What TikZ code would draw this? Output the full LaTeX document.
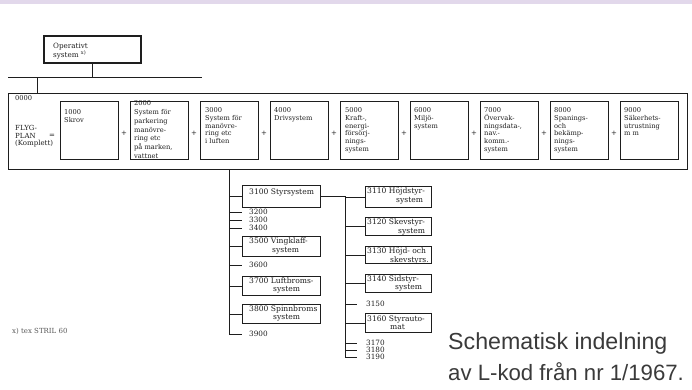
\documentclass[tikz,border=0pt]{standalone}
\usepackage{fontspec}
\setmainfont{DejaVu Serif}
\newfontfamily\capfont{Liberation Sans}
\definecolor{ink}{HTML}{1E1E1E}
\definecolor{strip}{RGB}{226,216,235}
\definecolor{capgray}{HTML}{3A3A3A}
\tikzset{
 frame/.style={draw=ink, line width=1.1pt, inner sep=0pt, anchor=north west},
 sysbox/.style={draw=ink, line width=1.4pt, inner sep=0pt, minimum width=58pt, minimum height=58pt, anchor=north west},
 subbox/.style={draw=ink, line width=1.3pt, inner sep=0pt, anchor=north west},
 toptxt/.style={anchor=north west, inner sep=0pt, align=left, text=ink, font=\fontsize{6.7}{7.7}\selectfont},
 treetxt/.style={anchor=north west, inner sep=0pt, align=left, text=ink, font=\fontsize{7.6}{8.5}\selectfont},
 ticklbl/.style={anchor=west, inner sep=0pt, text=ink, font=\fontsize{7.3}{7.3}\selectfont},
 conn/.style={draw=ink, line width=0.8pt},
 plus/.style={inner sep=0pt, text=ink, font=\fontsize{7}{7}\selectfont},
 captxt/.style={anchor=base west, inner sep=0pt, text=capgray},
}
\begin{document}
\begin{tikzpicture}[x=1pt,y=-1pt]
\useasboundingbox (0,0) rectangle (692,389);
\fill[strip] (0,0) rectangle (692,4);

% top box
\node[frame, line width=1.7pt, minimum width=97pt, minimum height=27pt] (op) at (43,35) {};
\node[toptxt, font=\fontsize{7.2}{9}\selectfont] (optxt) at (53,43) {Operativt\\system \textsuperscript{x)}};
\coordinate (hl) at (8,77);
\coordinate (hr) at (202,77);
\coordinate (drop) at (37,77);
\draw[conn] (hl) -- (hr);
\draw[conn] (op.south) -- (op.south |- hl);

% big frame
\node[frame, minimum width=679pt, minimum height=76pt] (big) at (8,93) {};
\draw[conn] (drop) -- (drop |- big.north);
\node[toptxt] (zero) at (15,95) {0000};
\node[toptxt, font=\fontsize{7}{7.6}\selectfont] (fly) at (15,125) {FLYG-\\PLAN\\(Komplett)};
\node[plus] (eq) at (52,136) {=};

% main system boxes
\node[sysbox] (b1) at (60,101) {};
\node[sysbox] (b2) at (130,101) {};
\node[sysbox] (b3) at (200,101) {};
\node[sysbox] (b4) at (270,101) {};
\node[sysbox] (b5) at (340,101) {};
\node[sysbox] (b6) at (410,101) {};
\node[sysbox] (b7) at (480,101) {};
\node[sysbox] (b8) at (550,101) {};
\node[sysbox] (b9) at (620,101) {};
\node[toptxt] (t1) at (64,109.5) {1000\\Skrov};
\node[toptxt, font=\fontsize{6.7}{8.8}\selectfont] (t2) at (134,100.5) {2000\\System för\\parkering\\manövre-\\ring etc\\på marken,\\vattnet};
\node[toptxt] (t3) at (205,107.5) {3000\\System för\\manövre-\\ring etc\\i luften};
\node[toptxt] (t4) at (274,107.5) {4000\\Drivsystem};
\node[toptxt] (t5) at (345,107.5) {5000\\Kraft-,\\energi-\\försörj-\\nings-\\system};
\node[toptxt] (t6) at (414,107.5) {6000\\Miljö-\\system};
\node[toptxt] (t7) at (484,107.5) {7000\\Övervak-\\ningsdata-,\\nav.-\\komm.-\\system};
\node[toptxt] (t8) at (554,107.5) {8000\\Spanings-\\och\\bekämp-\\nings-\\system};
\node[toptxt] (t9) at (624,107.5) {9000\\Säkerhets-\\utrustning\\m m};
\foreach \i in {1,...,8} \node[plus] (p\i) at ({124+70*(\i-1)},133) {+};

% tree 1
\node[subbox, minimum width=78pt, minimum height=22pt] (s3100) at (242,185) {};
\node[treetxt] (x3100) at (249,189) {3100 Styrsystem};
\node[ticklbl] (l3200) at (249,212) {3200};
\node[ticklbl] (l3300) at (249,220) {3300};
\node[ticklbl] (l3400) at (249,228) {3400};
\node[subbox, minimum width=78pt, minimum height=20pt] (s3500) at (242,236) {};
\node[treetxt] (x3500) at (249,238) {3500 Vingklaff-\\\hspace*{23pt}system};
\node[ticklbl] (l3600) at (249,265) {3600};
\node[subbox, minimum width=78pt, minimum height=19pt] (s3700) at (242,276) {};
\node[treetxt] (x3700) at (249,277.5) {3700 Luftbroms-\\\hspace*{24pt}system};
\node[subbox, minimum width=78pt, minimum height=19pt] (s3800) at (242,304) {};
\node[treetxt] (x3800) at (249,305.5) {3800 Spinnbroms\\\hspace*{24pt}system};
\node[ticklbl] (l3900) at (249,334) {3900};

\coordinate (tr1) at (b3.south |- big.south);
\draw[conn] (tr1) -- (tr1 |- l3900.west) -- ([xshift=-7pt]l3900.west);
\foreach \n in {s3100,s3500,s3700,s3800} \draw[conn] (tr1 |- \n.west) -- (\n.west);
\foreach \n in {l3200,l3300,l3400,l3600} \draw[conn] (tr1 |- \n.west) -- ([xshift=-7pt]\n.west);

% tree 2
\node[subbox, minimum width=66pt, minimum height=21pt] (s3110) at (365,186) {};
\node[treetxt] (x3110) at (367,187.5) {3110 Höjdstyr-\\\hspace*{29pt}system};
\node[subbox, minimum width=66pt, minimum height=18pt] (s3120) at (365,217) {};
\node[treetxt] (x3120) at (367,219) {3120 Skevstyr-\\\hspace*{31pt}system};
\node[subbox, minimum width=66pt, minimum height=17pt] (s3130) at (365,246) {};
\node[treetxt] (x3130) at (367,247.5) {3130 Höjd- och\\\hspace*{23pt}skevstyrs.};
\node[subbox, minimum width=66pt, minimum height=18pt] (s3140) at (365,274) {};
\node[treetxt] (x3140) at (367,275.5) {3140 Sidstyr-\\\hspace*{28pt}system};
\node[ticklbl] (l3150) at (366,304) {3150};
\node[subbox, minimum width=66pt, minimum height=19pt] (s3160) at (365,313) {};
\node[treetxt] (x3160) at (367,315.5) {3160 Styrauto-\\\hspace*{23pt}mat};
\node[ticklbl] (l3170) at (366,343) {3170};
\node[ticklbl] (l3180) at (366,350) {3180};
\node[ticklbl] (l3190) at (366,357) {3190};

\coordinate (tr2) at (345,196);
\draw[conn] (s3100.east) -- (tr2 |- s3100.east) -- (tr2 |- l3190.west) -- ([xshift=-9pt]l3190.west);
\foreach \n in {s3110,s3120,s3130,s3140,s3160} \draw[conn] (tr2 |- \n.west) -- (\n.west);
\foreach \n in {l3150,l3170,l3180} \draw[conn] (tr2 |- \n.west) -- ([xshift=-9pt]\n.west);

% footnote and caption
\node[anchor=west, inner sep=0pt, text=black!65, font=\fontsize{7}{7}\selectfont] (fn) at (12,331) {x) tex STRIL 60};
\node[captxt, font=\capfont\fontsize{23.2}{28}\selectfont] (cap1) at (448,349) {Schematisk indelning};
\node[captxt, font=\capfont\fontsize{22.2}{28}\selectfont] (cap2) at (448,380) {av L-kod från nr 1/1967.};
\end{tikzpicture}
\end{document}
